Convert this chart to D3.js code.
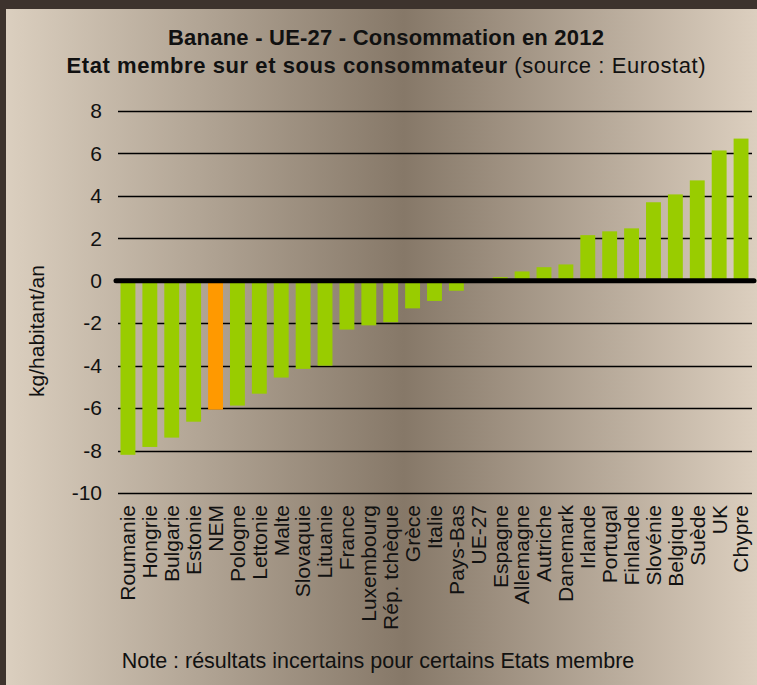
<!DOCTYPE html>
<html>
<head>
<meta charset="utf-8">
<script src="https://cdn.jsdelivr.net/npm/d3@7"></script>
<style>
  body { margin: 0; background: #3d332d; }
  svg { display: block; font-family: "Liberation Sans", Arial, sans-serif; }
</style>
</head>
<body>
<svg></svg>
<script>
// pays, du plus sous-consommateur au plus sur-consommateur
var countries = ["Roumanie", "Hongrie", "Bulgarie", "Estonie", "NEM", "Pologne", "Lettonie", "Malte",
  "Slovaquie", "Lituanie", "France", "Luxembourg", "Rép. tchèque", "Grèce", "Italie", "Pays-Bas",
  "UE-27", "Espagne", "Allemagne", "Autriche", "Danemark", "Irlande", "Portugal", "Finlande",
  "Slovénie", "Belgique", "Suède", "UK", "Chypre"];
var ecart = [-8.2, -7.83, -7.39, -6.64, -6.07, -5.88, -5.32, -4.56,
  -4.15, -4.0, -2.3, -2.1, -1.95, -1.3, -0.95, -0.47,
  0, 0.17, 0.44, 0.64, 0.77, 2.15, 2.33, 2.47,
  3.7, 4.07, 4.73, 6.14, 6.7];
var highlight = ["NEM"];
var yTicks = [8, 6, 4, 2, 0, -2, -4, -6, -8, -10];

var width = 757, height = 685;

var svg = d3.select("svg")
  .attr("width", width)
  .attr("height", height);

var grad = svg.append("defs").append("linearGradient")
  .attr("id", "fond")
  .attr("x1", "0%").attr("x2", "100%")
  .attr("y1", "0%").attr("y2", "0%");
grad.append("stop").attr("offset", "0%").attr("stop-color", "#dbcfbf");
grad.append("stop").attr("offset", "53%").attr("stop-color", "#867868");
grad.append("stop").attr("offset", "100%").attr("stop-color", "#dccfbf");

svg.append("rect")
  .attr("width", width).attr("height", height)
  .attr("fill", "#3d332d");
svg.append("rect")
  .attr("x", 6).attr("y", 9)
  .attr("width", width - 6).attr("height", height - 9)
  .attr("fill", "url(#fond)");

var x = d3.scaleBand()
  .domain(countries)
  .range([117, 752])
  .paddingInner(0.32)
  .paddingOuter(0.16);

var y = d3.scaleLinear()
  .domain([-10, 8])
  .range([493, 111]);

// grille
svg.append("g")
  .selectAll("line")
  .data(yTicks.filter(d => d !== 0))
  .enter().append("line")
  .attr("x1", 118).attr("x2", 752)
  .attr("y1", d => Math.round(y(d)) + 0.5)
  .attr("y2", d => Math.round(y(d)) + 0.5)
  .attr("stroke", "#000")
  .attr("stroke-width", 1.5);

// axe y
var yAxis = svg.append("g")
  .attr("transform", "translate(118,0)")
  .call(d3.axisLeft(y).tickValues(yTicks).tickFormat(d => String(d)).tickSize(0).tickPadding(16));
yAxis.select(".domain").remove();
yAxis.selectAll("text")
  .attr("font-size", 21)
  .attr("font-family", "Liberation Sans, Arial, sans-serif")
  .attr("fill", "#111");

// barres
svg.append("g")
  .selectAll("rect")
  .data(ecart)
  .enter().append("rect")
  .attr("x", (d, i) => x(countries[i]))
  .attr("width", x.bandwidth())
  .attr("y", d => y(Math.max(0, d)))
  .attr("height", d => Math.abs(y(d) - y(0)))
  .attr("fill", (d, i) => highlight.includes(countries[i]) ? "#ff9900" : "#99cc00");

// ligne zero
svg.append("line")
  .attr("x1", 116).attr("x2", 754)
  .attr("y1", y(0)).attr("y2", y(0))
  .attr("stroke", "#000")
  .attr("stroke-width", 5)
  .attr("stroke-linecap", "round");

// etiquettes x
var xAxis = svg.append("g")
  .attr("transform", "translate(0,505)")
  .call(d3.axisBottom(x).tickSize(0).tickPadding(0));
xAxis.select(".domain").remove();
xAxis.selectAll("text")
  .attr("font-size", 21)
  .attr("font-family", "Liberation Sans, Arial, sans-serif")
  .attr("fill", "#111")
  .attr("text-anchor", "end")
  .attr("dy", "0.35em")
  .attr("y", 0)
  .attr("transform", "rotate(-90)");

// titre
svg.append("text")
  .attr("x", 386).attr("y", 45)
  .attr("text-anchor", "middle")
  .attr("font-size", 22)
  .attr("font-weight", "bold")
  .attr("fill", "#111")
  .attr("textLength", 436)
  .attr("lengthAdjust", "spacing")
  .text("Banane - UE-27 - Consommation en 2012");

var sub = svg.append("text")
  .attr("x", 386).attr("y", 73)
  .attr("text-anchor", "middle")
  .attr("font-size", 22)
  .attr("fill", "#111")
  .attr("textLength", 639)
  .attr("lengthAdjust", "spacing");
sub.append("tspan").attr("font-weight", "bold").text("Etat membre sur et sous consommateur");
sub.append("tspan").text(" (source : Eurostat)");

svg.append("text")
  .attr("transform", "translate(44,331) rotate(-90)")
  .attr("text-anchor", "middle")
  .attr("font-size", 21)
  .attr("fill", "#111")
  .text("kg/habitant/an");

svg.append("text")
  .attr("x", 378).attr("y", 668)
  .attr("text-anchor", "middle")
  .attr("font-size", 21.5)
  .attr("fill", "#111")
  .text("Note : résultats incertains pour certains Etats membre");
</script>
</body>
</html>
